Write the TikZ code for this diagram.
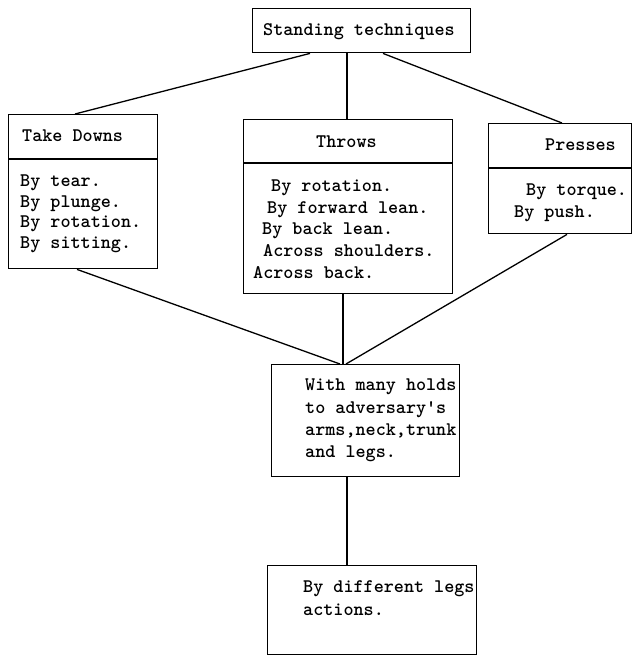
\documentclass[tikz,border=0pt]{standalone}
\usetikzlibrary{calc}
\begin{document}
\begin{tikzpicture}[x=1pt,y=-1pt,
  box/.style={draw, line width=1.4pt, inner sep=0pt, anchor=north west},
  txt/.style={inner sep=0pt, anchor=base west, font=\fontsize{19.2}{23}\ttfamily\bfseries},
  link/.style={line width=1.3pt}]
\useasboundingbox (0,0) rectangle (632,656);
% boxes
\node[box, minimum width=218, minimum height=44] (top) at (252,8) {};
\node[box, minimum width=149, minimum height=154] (td) at (8,114) {};
\node[box, minimum width=209, minimum height=174] (th) at (243,119) {};
\node[box, minimum width=143, minimum height=110] (pr) at (488,123) {};
\node[box, minimum width=188, minimum height=112] (mid) at (271,364) {};
\node[box, minimum width=209, minimum height=89] (bot) at (267,565) {};
% dividers
\draw[link] ($(td.north west)+(0,45)$) -- ($(td.north east)+(0,45)$);
\draw[link] ($(th.north west)+(0,44)$) -- ($(th.north east)+(0,44)$);
\draw[link] ($(pr.north west)+(0,45)$) -- ($(pr.north east)+(0,45)$);
% connectors
\draw[link] ($(top.south west)+(58,0)$) -- ($(td.north west)+(67,0)$);
\draw[link] ($(top.south west)+(95,0)$) -- ($(th.north west)+(104,0)$);
\draw[link] ($(top.south west)+(131,0)$) -- ($(pr.north west)+(74,0)$);
\draw[link] ($(td.south west)+(69,0)$) -- ($(mid.north west)+(69,0)$);
\draw[link] ($(th.south west)+(100,0)$) -- ($(mid.north west)+(72,0)$);
\draw[link] ($(pr.south west)+(79,0)$) -- ($(mid.north west)+(75,0)$);
\draw[link] ($(mid.south west)+(76,0)$) -- ($(bot.north west)+(80,0)$);
% texts
\node[txt] (t0) at (263,35) {Standing techniques};
\node[txt] (td0) at (22,141) {Take Downs};
\node[txt] (td1) at (20,186) {By tear.};
\node[txt] (td2) at (20,207) {By plunge.};
\node[txt] (td3) at (20,227) {By rotation.};
\node[txt] (td4) at (20,248) {By sitting.};
\node[txt] (th0) at (316,147) {Throws};
\node[txt] (th1) at (271,191) {By rotation.};
\node[txt] (th2) at (267,213) {By forward lean.};
\node[txt] (th3) at (262,234) {By back lean.};
\node[txt] (th4) at (263,256) {Across shoulders.};
\node[txt] (th5) at (253,278) {Across back.};
\node[txt] (pr0) at (545,150) {Presses};
\node[txt] (pr1) at (526,195) {By torque.};
\node[txt] (pr2) at (514,217) {By push.};
\node[txt] (m1) at (305,390) {With many holds};
\node[txt] (m2) at (305,413) {to adversary's};
\node[txt] (m3) at (305,435) {arms,neck,trunk};
\node[txt] (m4) at (305,457) {and legs.};
\node[txt] (b1) at (303,592) {By different legs};
\node[txt] (b2) at (303,615) {actions.};
\end{tikzpicture}
\end{document}
